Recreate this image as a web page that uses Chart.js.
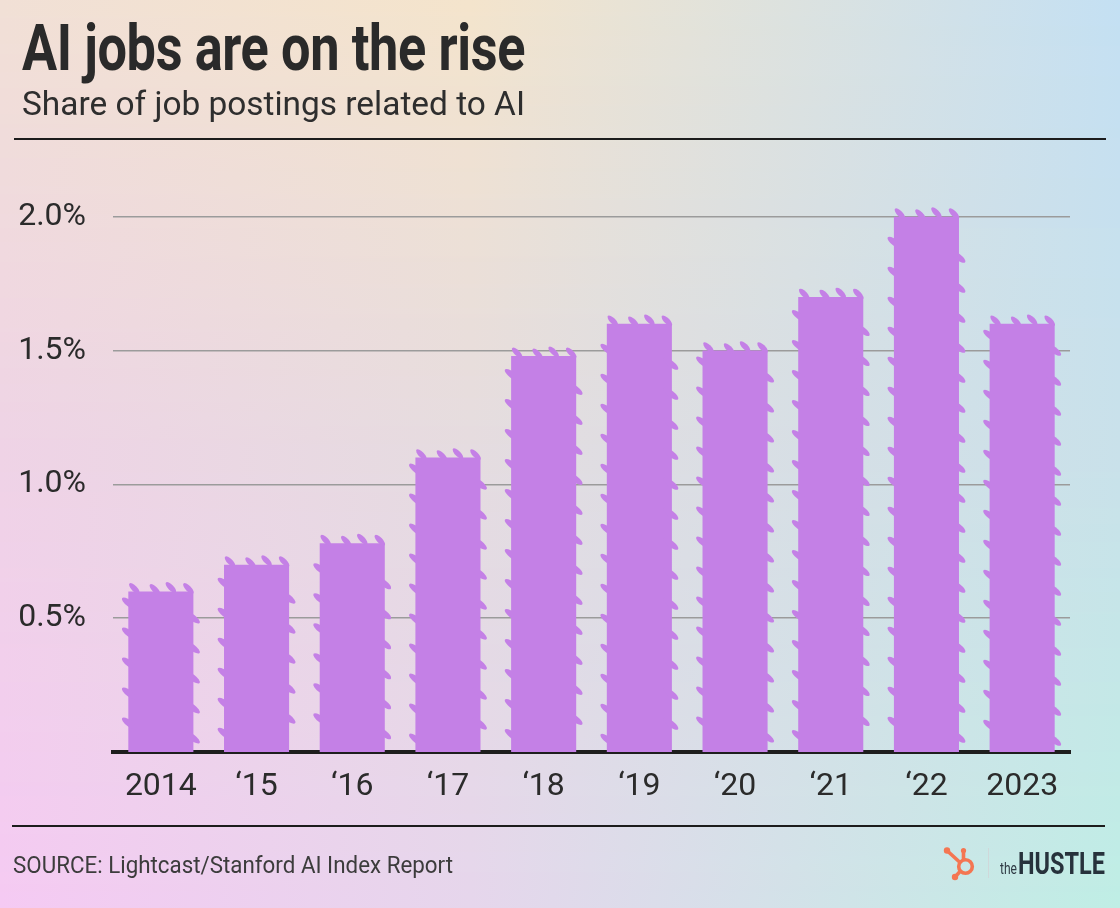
<!DOCTYPE html>
<html><head><meta charset="utf-8">
<script src="https://cdn.jsdelivr.net/npm/chart.js@4.4.1/dist/chart.umd.min.js"></script>
<style>
html,body{margin:0;padding:0;width:1120px;height:908px;overflow:hidden;background:#e6dde2;}
#wrap{position:relative;width:1120px;height:908px;}
#c{position:absolute;left:0;top:0;}
.t{position:absolute;white-space:nowrap;transform-origin:0 0;line-height:1;z-index:2;}
#title{left:22px;top:16px;font-family:Roboto;font-weight:bold;font-size:65px;color:#2a2a2a;letter-spacing:-0.5px;}
#subtitle{left:22px;top:87px;font-family:Roboto;font-size:33px;color:#2e2e2e;}
#source{left:13px;top:854px;font-family:Roboto;font-size:23px;color:#3c3c3c;}
#the{left:1000px;top:860px;font-family:Roboto;font-size:17px;color:#2f3a44;}
#hustle{left:1018px;top:848px;font-family:Roboto;font-weight:bold;font-size:31px;color:#27323c;}
.rule{position:absolute;background:#1c1c1c;z-index:2;}
#logo{position:absolute;left:938px;top:840px;z-index:2;}
#divider{position:absolute;left:988px;top:848px;width:1px;height:30px;background:#cfd8da;z-index:2;}
</style></head>
<body>
<div id="wrap">
<canvas id="c" width="1120" height="908"></canvas>
<div class="t" id="title" data-w="503">AI jobs are on the rise</div>
<div class="t" id="subtitle" data-w="503">Share of job postings related to AI</div>
<div class="rule" style="left:14px;top:138px;width:1092px;height:2px;"></div>
<div class="rule" style="left:12px;top:825px;width:1093px;height:2px;"></div>
<div class="t" id="source" data-w="440">SOURCE: Lightcast/Stanford AI Index Report</div>
<svg id="logo" width="40" height="45" viewBox="938 840 40 45">
  <g stroke="#f47652" fill="none" stroke-width="3.6" stroke-linecap="round">
    <circle cx="965.5" cy="866.5" r="6.8"/>
    <line x1="963.5" y1="859.5" x2="963.5" y2="851"/>
    <line x1="959.5" y1="862" x2="948" y2="851.5"/>
    <line x1="960" y1="871.5" x2="955.5" y2="876.5"/>
  </g>
  <g fill="#f47652">
    <circle cx="963.5" cy="850.5" r="2.6"/>
    <circle cx="947" cy="850.5" r="3.2"/>
    <circle cx="955" cy="877" r="3.2"/>
  </g>
</svg>
<div id="divider"></div>
<div class="t" id="the" data-w="17">the</div>
<div class="t" id="hustle" data-w="87">HUSTLE</div>
</div>
<script>
// ---- data ----
const categories = ['2014', '\u201815', '\u201816', '\u201817', '\u201818', '\u201819', '\u201820', '\u201821', '\u201822', '2023'];
const shareAI = [0.60, 0.70, 0.78, 1.10, 1.48, 1.60, 1.50, 1.70, 2.00, 1.60];
const yTickValues = [0.5, 1.0, 1.5, 2.0];
const yTickLabels = ['0.5%', '1.0%', '1.5%', '2.0%'];

// fit text widths
document.querySelectorAll('.t[data-w]').forEach(el => {
  const w = el.getBoundingClientRect().width;
  const target = +el.dataset.w;
  el.style.transform = 'scaleX(' + (target / w) + ')';
});

function hex(c){return [parseInt(c.slice(1,3),16),parseInt(c.slice(3,5),16),parseInt(c.slice(5,7),16)];}
function mix(a,b,t){return a.map((v,i)=>v+(b[i]-v)*t);}
const bgRows = [
  ['#f1e0d6','#f4e4cc','#c4e0f3'],
  ['#efd3e6','#e5dce0','#c9e1ea'],
  ['#f5caf3','#e6d6ec','#bfeee5']
].map(r=>r.map(hex));
const bgX = [0, 0.42, 1];

const bgPlugin = {
  id: 'bg',
  beforeDraw(chart) {
    const ctx = chart.ctx, W = chart.width, H = chart.height;
    ctx.save();
    for (let y = 0; y < H; y += 2) {
      const t = y / H;
      let r0, r1, tt;
      if (t < 0.5) { r0 = bgRows[0]; r1 = bgRows[1]; tt = t / 0.5; }
      else { r0 = bgRows[1]; r1 = bgRows[2]; tt = (t - 0.5) / 0.5; }
      const g = ctx.createLinearGradient(0, 0, W, 0);
      for (let i = 0; i < 3; i++) {
        const c = mix(r0[i], r1[i], tt).map(Math.round);
        g.addColorStop(bgX[i], 'rgb(' + c.join(',') + ')');
      }
      ctx.fillStyle = g;
      ctx.fillRect(0, y, W, 2);
    }
    ctx.restore();
  }
};

// ragged "splatter" edges drawn around each bar element the library placed
const dripPlugin = {
  id: 'drips',
  afterDatasetDraw(chart, args) {
    const ctx = chart.ctx;
    const meta = args.meta;
    ctx.save();
    ctx.fillStyle = '#c480e6';
    meta.data.forEach((bar, bi) => {
      const p = bar.getProps(['x', 'y', 'base', 'width'], true);
      const L = p.x - p.width / 2, R = p.x + p.width / 2;
      const off = (bi % 3) * 7;
      for (let yy = p.y + 12 + off; yy < p.base - 8; yy += 30) {
        ctx.beginPath();
        ctx.ellipse(L + 1, yy, 9, 3.2, 0.65, 0, Math.PI * 2);
        ctx.fill();
      }
      for (let yy = p.y + 26 + off; yy < p.base - 8; yy += 30) {
        ctx.beginPath();
        ctx.ellipse(R - 1, yy, 9, 3.2, 0.65, 0, Math.PI * 2);
        ctx.fill();
      }
      [[L + 6, -3], [p.x - 6, -2], [p.x + 10, -4], [R - 5, -3]].forEach(([ex, dy]) => {
        ctx.beginPath();
        ctx.ellipse(ex, p.y + dy, 7, 2.8, 0.8, 0, Math.PI * 2);
        ctx.fill();
      });
    });
    ctx.restore();
  }
};

new Chart(document.getElementById('c'), {
  type: 'bar',
  data: {
    labels: categories,
    datasets: [{
      data: shareAI,
      backgroundColor: '#c480e6',
      borderWidth: 0,
      barPercentage: 0.68,
      categoryPercentage: 1.0
    }]
  },
  options: {
    responsive: false,
    animation: false,
    devicePixelRatio: 1,
    layout: { padding: { left: 18, top: 190, right: 50, bottom: 96 } },
    plugins: { legend: { display: false }, tooltip: { enabled: false }, title: { display: false } },
    scales: {
      x: {
        z: 1,
        grid: { display: false, drawTicks: false },
        border: { display: true, color: '#1e1e1e', width: 4 },
        ticks: { color: '#2b2b2b', font: { family: 'Roboto', size: 32 }, padding: 16, maxRotation: 0, autoSkip: false },
        afterFit(scale) { scale.height = 60; }
      },
      y: {
        min: 0,
        max: 2.1,
        afterBuildTicks(axis) { axis.ticks = yTickValues.map(v => ({ value: v })); },
        grid: { color: '#9b9b9b', lineWidth: 1.5, drawTicks: false },
        border: { display: false },
        ticks: {
          color: '#2b2b2b',
          font: { family: 'Roboto', size: 32 },
          padding: 27,
          callback: (v) => { const i = yTickValues.indexOf(+v.toFixed(2)); return i >= 0 ? yTickLabels[i] : ''; }
        },
        afterFit(scale) { scale.width = 95; }
      }
    }
  },
  plugins: [bgPlugin, dripPlugin]
});
</script>
</body></html>
